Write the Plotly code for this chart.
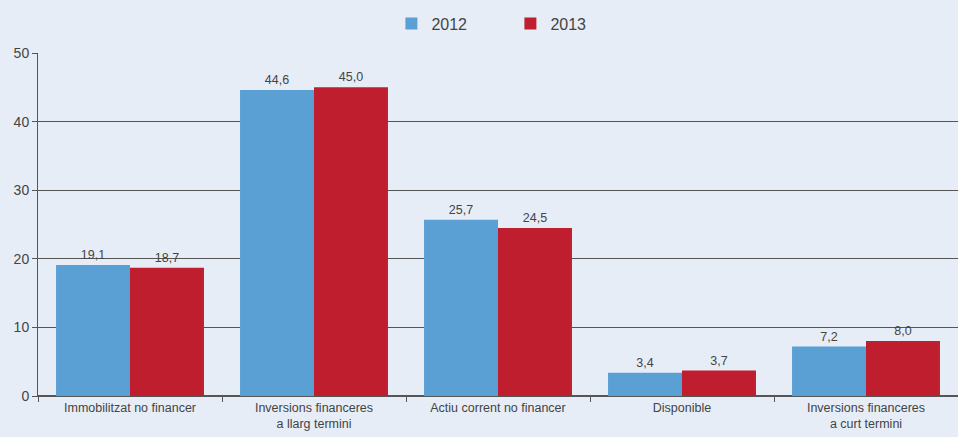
import plotly.graph_objects as go

categories = ["Immobilitzat no financer", "Inversions financeres<br>a llarg termini",
              "Actiu corrent no financer", "Disponible",
              "Inversions financeres<br>a curt termini"]
values_2012 = [19.1, 44.6, 25.7, 3.4, 7.2]
values_2013 = [18.7, 45.0, 24.5, 3.7, 8.0]
series_names = ["2012", "2013"]

FONT = "Liberation Sans Narrow, Arial Narrow, Liberation Sans, sans-serif"

def fmt(v):
    return f"{v:.1f}".replace(".", ",")

fig = go.Figure()
fig.add_trace(go.Bar(x=categories, y=values_2012, name=series_names[0],
                     marker=dict(color="#5AA0D5", line=dict(width=0)),
                     text=[fmt(v) for v in values_2012], textposition="outside",
                     textfont=dict(size=12.5, color="#444", family=FONT), cliponaxis=False))
fig.add_trace(go.Bar(x=categories, y=values_2013, name=series_names[1],
                     marker=dict(color="#BE1E2D", line=dict(width=0)),
                     text=[fmt(v) for v in values_2013], textposition="outside",
                     textfont=dict(size=12.5, color="#444", family=FONT), cliponaxis=False))

fig.update_layout(
    width=958, height=437,
    margin=dict(l=38, r=0, t=53, b=41, autoexpand=False),
    paper_bgcolor="#E6EDF7", plot_bgcolor="#E6EDF7",
    barmode="group", bargap=0.196, bargroupgap=0,
    font=dict(family=FONT, size=13, color="#444"),
    legend=dict(orientation="h", x=368 / 958, xanchor="left", yref="container",
                y=0.985, yanchor="top", entrywidth=74, entrywidthmode="pixels",
                font=dict(size=16, color="#444", family=FONT), traceorder="normal"),
    showlegend=True,
)
fig.update_xaxes(showline=True, linecolor="#555", linewidth=1, ticks="outside",
                 tickson="boundaries", ticklen=5, tickcolor="#555", automargin=False,
                 tickfont=dict(size=12.5, color="#444", family=FONT), showgrid=False)
fig.update_yaxes(range=[0, 50], dtick=10, showline=True, linecolor="#555", linewidth=1,
                 ticks="outside", ticklen=5, tickcolor="#555", showgrid=True, automargin=False,
                 gridcolor="#555", gridwidth=1, zeroline=True, zerolinecolor="#555",
                 tickfont=dict(size=14, color="#444", family=FONT))

fig.write_html("out.html", config={"displayModeBar": False},
               post_script="document.body.style.margin='0';document.body.style.background='#E6EDF7';")
